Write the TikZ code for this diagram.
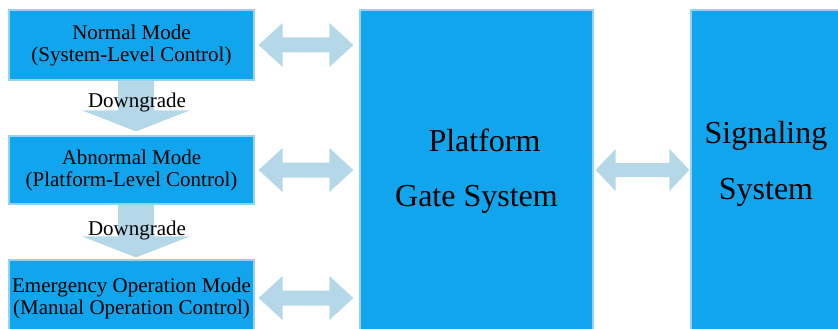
\documentclass[tikz,border=0pt]{standalone}
\usepackage{fontspec}
\setmainfont{Liberation Serif}
\usetikzlibrary{calc,backgrounds}
\definecolor{boxblue}{RGB}{16,165,236}
\definecolor{boxedge}{RGB}{150,210,240}
\definecolor{arrowblue}{RGB}{180,216,232}
% horizontal double fat arrow: #1 left tip, #2 right tip, #3 head length, #4 head half-height, #5 shaft half-height
\newcommand{\fatharrow}[5]{%
  \fill[arrowblue] let \p1=#1, \p2=#2 in
    (\x1,\y1) -- (\x1+#3,\y1+#4) -- (\x1+#3,\y1+#5) -- (\x2-#3,\y1+#5) -- (\x2-#3,\y1+#4) -- (\x2,\y1)
    -- (\x2-#3,\y1-#4) -- (\x2-#3,\y1-#5) -- (\x1+#3,\y1-#5) -- (\x1+#3,\y1-#4) -- cycle;}
% vertical fat arrow: #1 top centre, #2 apex
\newcommand{\fatvarrow}[2]{%
  \fill[arrowblue] let \p1=#1, \p2=#2 in
    (\x1-18pt,\y1) -- (\x1+18pt,\y1) -- (\x1+18pt,\y2+21pt) -- (\x1+54pt,\y2+21pt) -- (\x1,\y2)
    -- (\x1-54pt,\y2+21pt) -- (\x1-18pt,\y2+21pt) -- cycle;}
\begin{document}
\begin{tikzpicture}[x=1pt,y=-1pt,
  modebox/.style={draw=boxedge, line width=1.2pt, fill=boxblue, minimum width=245pt,
    align=center, inner sep=0pt, font=\fontsize{21}{22}\selectfont},
  bigbox/.style={draw=boxedge, line width=1.2pt, fill=boxblue, minimum width=233pt,
    minimum height=322pt, inner sep=0pt, align=center, font=\fontsize{32}{55}\selectfont},
  bigtext/.style={align=center, inner sep=0pt, font=\fontsize{32}{56}\selectfont},
  dglabel/.style={anchor=base, inner sep=0pt, font=\fontsize{21}{22}\selectfont}]
\useasboundingbox (0,0) rectangle (838,329);
\clip (0,0) rectangle (838,329);
\node[modebox, minimum height=70pt] (nm) at (131.5,45) {Normal Mode\\(System-Level Control)};
\node[modebox, minimum height=68pt] (ab) at (131.5,170) {Abnormal Mode\\(Platform-Level Control)};
\node[modebox, minimum height=76pt] (em) at (131.5,298) {Emergency Operation Mode\\(Manual Operation Control)};
\node[bigbox] (pg) at (476.5,171) {\hspace*{16pt}Platform\\Gate System};
\node[bigbox] (sig) at (807.5,171) {};
\node[bigtext] (sigtext) at (766,164) {Signaling\\System};
\begin{scope}[on background layer]
  \fatvarrow{($(nm.south)+(4.5pt,0)$)}{($(ab.north)+(4.5pt,-4)$)}
  \fatvarrow{($(ab.south)+(4.5pt,0)$)}{($(em.north)+(4.5pt,-2)$)}
  \fatharrow{($(nm.east)+(4,0)$)}{($(pg.west |- nm.east)+(-6,0)$)}{24pt}{22pt}{7.5pt}
  \fatharrow{($(ab.east)+(4,0)$)}{($(pg.west |- ab.east)+(-6,0)$)}{24pt}{22pt}{7.5pt}
  \fatharrow{($(em.east)+(4,0)$)}{($(pg.west |- em.east)+(-6,0)$)}{24pt}{22pt}{7.5pt}
  \fatharrow{($(pg.east |- ab.east)+(2,0)$)}{($(sig.west |- ab.east)+(-1,0)$)}{20pt}{21pt}{7pt}
\end{scope}
\node[dglabel] (dg1) at (137,107) {Downgrade};
\node[dglabel] (dg2) at (137,235) {Downgrade};
\end{tikzpicture}
\end{document}
